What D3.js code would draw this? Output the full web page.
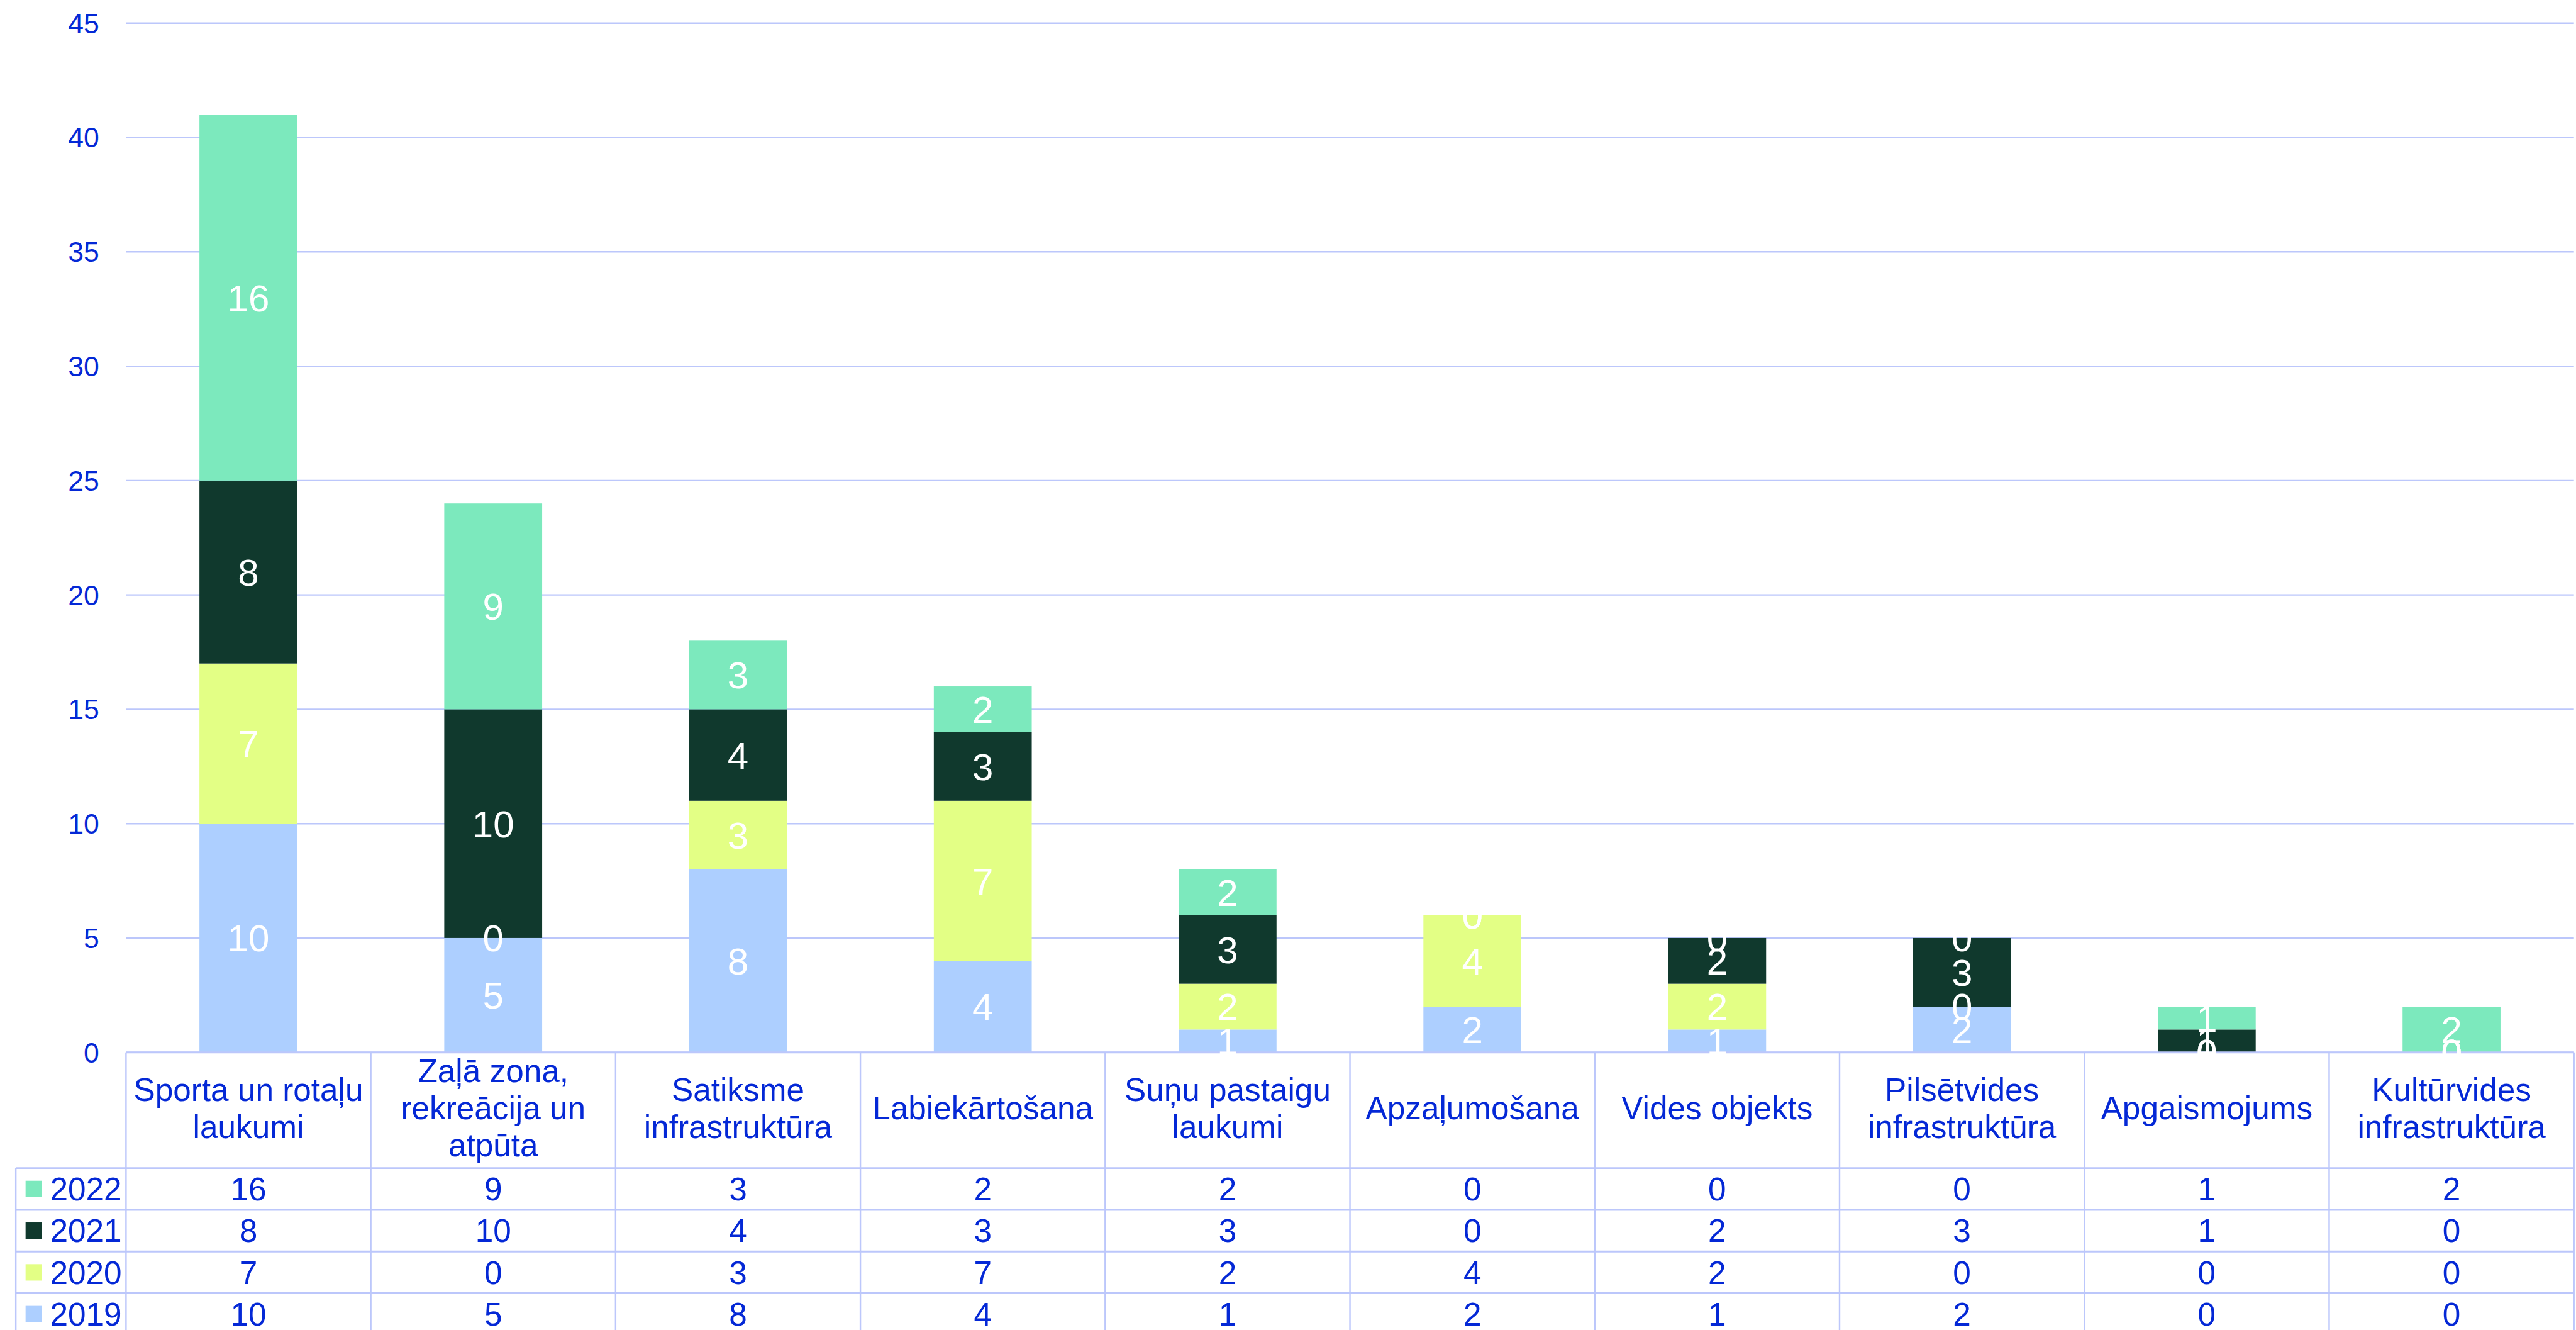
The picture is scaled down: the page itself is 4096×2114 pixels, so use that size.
<!DOCTYPE html>
<html lang="lv">
<head>
<meta charset="utf-8">
<style>
  body { margin: 0; background: #fff; }
  text { font-family: "Liberation Sans", Arial, sans-serif; }
</style>
</head>
<body>
<svg id="chart" width="4096" height="2114"></svg>
<script src="https://cdn.jsdelivr.net/npm/d3@7"></script>
<script>
// data
var categories = ["Sporta un rotaļu laukumi", "Zaļā zona, rekreācija un atpūta", "Satiksme infrastruktūra",
    "Labiekārtošana", "Suņu pastaigu laukumi", "Apzaļumošana", "Vides objekts",
    "Pilsētvides infrastruktūra", "Apgaismojums", "Kultūrvides infrastruktūra"];
var years = ["2019", "2020", "2021", "2022"];
var v2019 = [10, 5, 8, 4, 1, 2, 1, 2, 0, 0];
var v2020 = [7, 0, 3, 7, 2, 4, 2, 0, 0, 0];
var v2021 = [8, 10, 4, 3, 3, 0, 2, 3, 1, 0];
var v2022 = [16, 9, 3, 2, 2, 0, 0, 0, 1, 2];
var yTicks = [0, 5, 10, 15, 20, 25, 30, 35, 40, 45];

var colors = {"2019": "#adcfff", "2020": "#e3ff85", "2021": "#10392d", "2022": "#7ce9bd"};
var blue = "#0428d6";
var lineCol = "#bcc7fb";

var values = {"2019": v2019, "2020": v2020, "2021": v2021, "2022": v2022};
var rows = categories.map(function(c, i) {
    var r = {cat: c};
    years.forEach(function(y) { r[y] = values[y][i]; });
    return r;
});

var svg = d3.select("#chart");
var g = svg.append("g").attr("transform", "scale(0.968)");

var left = 207, right = 4228, bottom = 1728;
var x = d3.scaleBand().domain(categories).range([left, right]).paddingInner(0.6).paddingOuter(0.3);
var col = d3.scaleBand().domain(categories).range([left, right]);
var y = d3.scaleLinear().domain([0, 45]).range([bottom, 38]);

// grid
g.selectAll(".grid").data(yTicks).enter().append("line")
    .attr("x1", left).attr("x2", right)
    .attr("y1", function(d) { return y(d); }).attr("y2", function(d) { return y(d); })
    .attr("stroke", lineCol).attr("stroke-width", 2.5);

g.selectAll(".ytick").data(yTicks).enter().append("text")
    .attr("x", 163).attr("y", function(d) { return y(d) + 0.358 * 46; })
    .attr("text-anchor", "end").attr("font-size", 46).attr("fill", blue)
    .text(function(d) { return d; });

// stacked bars
var stacked = d3.stack().keys(years)(rows);
var layers = g.selectAll(".layer").data(stacked).enter().append("g")
    .attr("fill", function(d) { return colors[d.key]; });
layers.selectAll("rect").data(function(d) { return d; }).enter().append("rect")
    .attr("x", function(d) { return x(d.data.cat); })
    .attr("width", x.bandwidth())
    .attr("y", function(d) { return y(d[1]); })
    .attr("height", function(d) { return y(d[0]) - y(d[1]); });

// data table
var headH = 190, rowH = 68.5, legLeft = 26;
var tableRows = ["2022", "2021", "2020", "2019"];
var tbl = g.append("g");
var bottomY = bottom + headH + rowH * tableRows.length;

tbl.append("line").attr("x1", left).attr("x2", right).attr("y1", bottom).attr("y2", bottom)
    .attr("stroke", lineCol).attr("stroke-width", 3);
d3.range(tableRows.length + 1).forEach(function(i) {
    var yy = bottom + headH + i * rowH;
    tbl.append("line").attr("x1", legLeft).attr("x2", right).attr("y1", yy).attr("y2", yy)
        .attr("stroke", lineCol).attr("stroke-width", 3);
});
categories.concat(["end"]).forEach(function(c, i) {
    var xx = left + i * col.step();
    tbl.append("line").attr("x1", xx).attr("x2", xx).attr("y1", bottom).attr("y2", bottomY)
        .attr("stroke", lineCol).attr("stroke-width", 2.5);
});
tbl.append("line").attr("x1", legLeft).attr("x2", legLeft).attr("y1", bottom + headH).attr("y2", bottomY)
    .attr("stroke", lineCol).attr("stroke-width", 2.5);

// header labels, wrapped to the column width
var fsHead = 53, lineH = 61;
categories.forEach(function(c) {
    var t = tbl.append("text").attr("font-size", fsHead).attr("fill", blue).attr("text-anchor", "middle");
    var words = c.split(" "), lines = [], cur = "";
    words.forEach(function(w) {
        var test = cur ? cur + " " + w : w;
        t.text(test);
        if (cur && t.node().getComputedTextLength() > 392) { lines.push(cur); cur = w; }
        else cur = test;
    });
    lines.push(cur);
    t.text(null);
    var cx = col(c) + col.bandwidth() / 2;
    var cy = bottom + headH / 2 - 4;
    var first = cy - (lines.length - 1) * lineH / 2 + 0.358 * fsHead;
    lines.forEach(function(l, i) {
        t.append("tspan").attr("x", cx).attr("y", first + i * lineH).text(l);
    });
});

// table rows
var fsCell = 53;
tableRows.forEach(function(yr, r) {
    var cy = bottom + headH + r * rowH + rowH / 2;
    tbl.append("rect").attr("x", 42).attr("y", cy - 13.5).attr("width", 27).attr("height", 27)
        .attr("fill", colors[yr]);
    tbl.append("text").attr("x", 82).attr("y", cy + 0.358 * fsCell)
        .attr("font-size", fsCell).attr("fill", blue).text(yr);
    tbl.selectAll(".c" + yr).data(values[yr]).enter().append("text")
        .attr("x", function(d, i) { return col(categories[i]) + col.bandwidth() / 2; })
        .attr("y", cy + 0.358 * fsCell)
        .attr("text-anchor", "middle").attr("font-size", fsCell).attr("fill", blue)
        .text(function(d) { return d; });
});

// bar value labels on top
var fsLab = 62;
var labels = g.append("g");
stacked.forEach(function(s) {
    labels.selectAll(".l" + s.key).data(s).enter().append("text")
        .attr("x", function(d) { return x(d.data.cat) + x.bandwidth() / 2; })
        .attr("y", function(d) { return y((d[0] + d[1]) / 2) + 0.358 * fsLab; })
        .attr("text-anchor", "middle").attr("font-size", fsLab).attr("fill", "#fff")
        .text(function(d) { return d[1] - d[0]; });
});
</script>
</body>
</html>
